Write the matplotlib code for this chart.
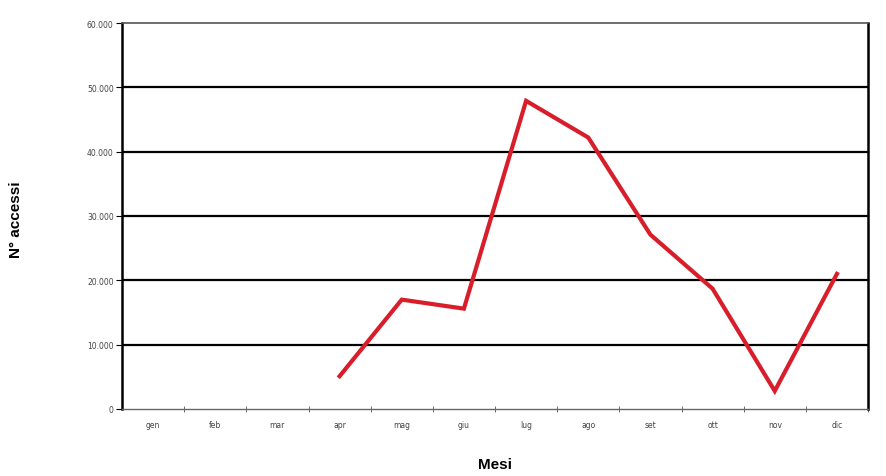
import matplotlib.pyplot as plt
import numpy as np

# --- data ---
mesi = ["gen", "feb", "mar", "apr", "mag", "giu",
        "lug", "ago", "set", "ott", "nov", "dic"]
accessi = [np.nan, np.nan, np.nan, 5100, 17000, 15600,
           47900, 42200, 27100, 18700, 2800, 21000]
y_ticks = [0, 10000, 20000, 30000, 40000, 50000, 60000]
y_tick_labels = ["0", "10.000", "20.000", "30.000", "40.000", "50.000", "60.000"]

fig = plt.figure(figsize=(8.86, 4.77), dpi=100)
ax = fig.add_axes([122 / 886, 67 / 477, 746 / 886, 386 / 477])

x = np.arange(len(mesi))
ax.plot(x, accessi, color="#d81e2a", linewidth=3.0, solid_joinstyle="miter", zorder=3)

ax.set_xlim(-0.5, len(mesi) - 0.5)
ax.set_ylim(0, 60000)

# horizontal grid lines (black, heavy)
for v in y_ticks[1:-1]:
    ax.axhline(v, color="black", linewidth=1.6, zorder=2)

ax.set_yticks(y_ticks)
ax.set_yticklabels(y_tick_labels, fontsize=5.5, color="#444444")
ax.set_xticks(x)
ax.set_xticklabels(mesi, fontsize=5.5, color="#444444")
ax.set_xticks(np.arange(len(mesi)) + 0.5, minor=True)
ax.tick_params(axis="x", which="major", length=0, pad=8)
ax.tick_params(axis="x", which="minor", length=4, direction="inout", color="#555555")
ax.tick_params(axis="y", length=4, direction="out", pad=2)

ax.spines["left"].set_linewidth(1.8)
ax.spines["right"].set_linewidth(1.8)
ax.spines["top"].set_color("#555555")
ax.spines["top"].set_linewidth(1.2)
ax.spines["bottom"].set_color("#666666")
ax.spines["bottom"].set_linewidth(1.0)

fig.text(495 / 886, 1 - 465 / 477, "Mesi", ha="center", va="center",
         fontsize=11, fontweight="bold", family="Liberation Sans")
fig.text(16 / 886, 1 - 220 / 477, "N° accessi", ha="center", va="center",
         rotation=90, fontsize=11, fontweight="bold", family="Liberation Sans")

fig.savefig("out.png", dpi=100)
